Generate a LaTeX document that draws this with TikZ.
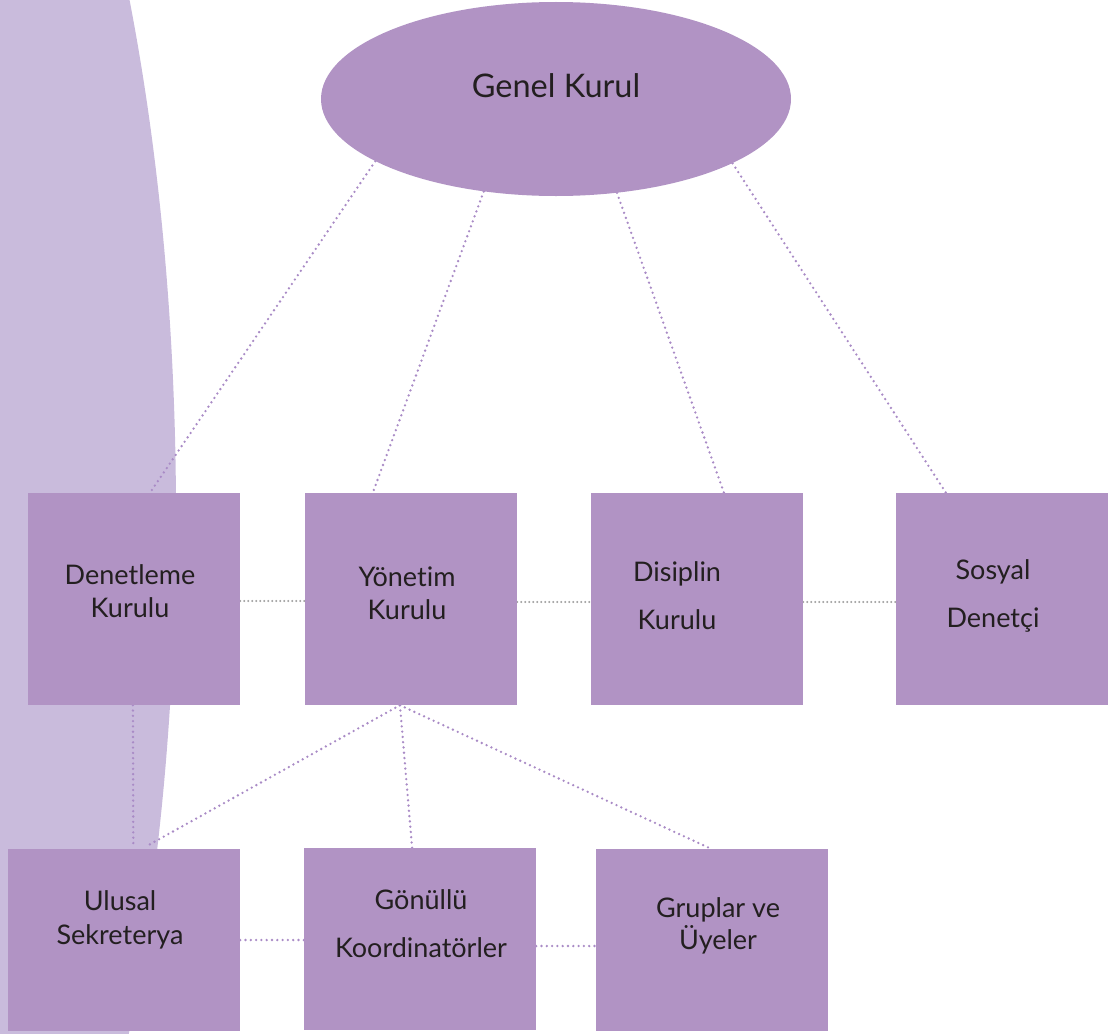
\documentclass[tikz,border=0pt]{standalone}
\usepackage{fontspec}
\setmainfont{Lato}[Ligatures={NoCommon}]
\usetikzlibrary{shapes.geometric,calc}
\definecolor{boxfill}{HTML}{B193C4}
\definecolor{bgshape}{HTML}{C9BBDC}
\definecolor{dotpurple}{HTML}{A98BC6}
\definecolor{dotgray}{HTML}{A0A0A0}
\definecolor{txt}{HTML}{231F20}
\pgfdeclarelayer{bgzero}
\pgfdeclarelayer{bgone}
\pgfsetlayers{bgzero,bgone,main}
\tikzset{
  orgbox/.style={rectangle, fill=boxfill, draw=none, inner sep=0pt},
  topbox/.style={orgbox, minimum width=212pt, minimum height=212pt},
  lowbox/.style={orgbox, minimum width=232pt, minimum height=182pt},
  boxtext/.style={text=txt, align=center, inner sep=0pt, font=\fontsize{27}{#1}\selectfont},
  dotline/.style={draw=dotpurple, line width=2.6pt, dash pattern=on 0pt off 5.3pt, line cap=round},
  grayline/.style={draw=dotgray, line width=2.2pt, dash pattern=on 0pt off 4pt, line cap=round}
}
\begin{document}
\begin{tikzpicture}[x=1pt,y=-1pt]
\useasboundingbox (0,0) rectangle (1110,1033);

% nodes
\node[ellipse, fill=boxfill, inner sep=0pt, minimum width=470pt, minimum height=194pt] (gk) at (556,99) {};
\node[text=txt, inner sep=0pt, font=\fontsize{32.5}{38}\selectfont] (gkT) at (556,86) {Genel Kurul};

\node[topbox] (den) at (134,599) {};
\node[topbox] (yon) at (411,599) {};
\node[topbox] (dis) at (697,599) {};
\node[topbox] (sos) at (1002,599) {};

\node[lowbox] (ulu) at (124,940) {};
\node[lowbox] (gon) at (420,939) {};
\node[lowbox] (gru) at (712,940) {};

\node[boxtext=33pt] (denT) at (130,591) {Denetleme\\Kurulu};
\node[boxtext=33pt] (yonT) at (407,593) {Yönetim\\Kurulu};
\node[boxtext=48pt] (disT) at (677,596) {Disiplin\\Kurulu};
\node[boxtext=48pt] (sosT) at (993,596) {Sosyal\\Denetçi};
\node[boxtext=34pt] (uluT) at (120,920) {Ulusal\\Sekreterya};
\node[boxtext=48pt] (gonT) at (421,924) {Gönüllü\\Koordinatörler};
\node[boxtext=32pt] (gruT) at (718,926) {Gruplar ve\\Üyeler};

% background shape
\begin{pgfonlayer}{bgzero}
  \begin{scope}
    \clip (0,0) rectangle (1110,1033);
    \fill[bgshape] (-224,515) ellipse [x radius=400pt, y radius=1100pt];
  \end{scope}
\end{pgfonlayer}

% connectors
\begin{pgfonlayer}{bgone}
  \draw[dotline] (gk.199.7) -- ($(den.north west)!0.575!(den.north east)$);
  \draw[dotline] (gk.232.6) -- ($(yon.north west)!0.32!(yon.north east)$);
  \draw[dotline] (gk.303.8) -- ($(dis.north west)!0.627!(dis.north east)$);
  \draw[dotline] (gk.340.6) -- ($(sos.north west)!0.236!(sos.north east)$);

  \draw[grayline] ($(den.east)+(0,2)$) -- ($(yon.west)+(0,2)$);
  \draw[grayline] ($(yon.east)+(0,3)$) -- ($(dis.west)+(0,3)$);
  \draw[grayline] ($(dis.east)+(0,3)$) -- ($(sos.west)+(0,3)$);

  \draw[dotline] ($(den.south west)!0.495!(den.south east)$) -- ($(ulu.north west)!0.54!(ulu.north east)+(0,-3)$);
  \draw[dotline] ($(yon.south west)!0.448!(yon.south east)$) -- ($(ulu.north west)!0.6!(ulu.north east)+(0,-3)$);
  \draw[dotline] ($(yon.south west)!0.448!(yon.south east)$) -- ($(gon.north west)!0.466!(gon.north east)$);
  \draw[dotline] ($(yon.south west)!0.448!(yon.south east)$) -- ($(gru.north west)!0.496!(gru.north east)$);

  \draw[dotline] (ulu.east) -- ($(gon.west)+(0,1)$);
  \draw[dotline] ($(gon.east)+(0,7)$) -- ($(gru.west)+(0,6)$);
\end{pgfonlayer}
\end{tikzpicture}
\end{document}
